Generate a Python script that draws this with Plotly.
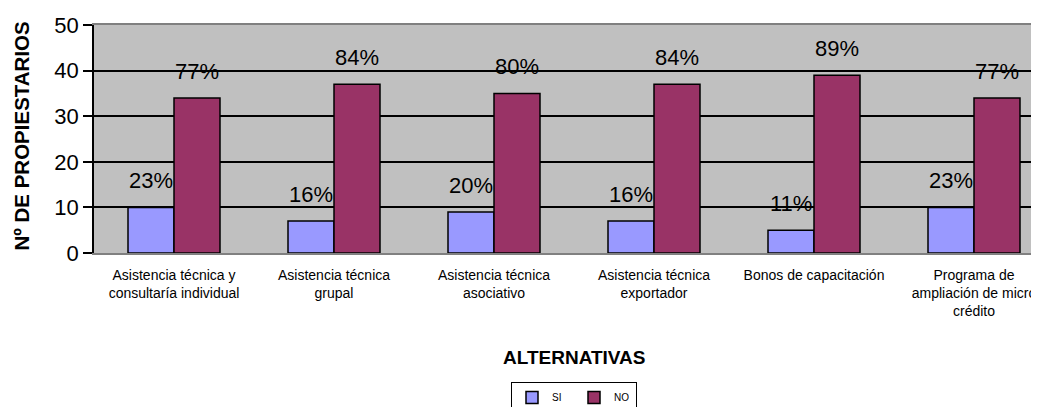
import plotly.graph_objects as go

categories = [
    "Asistencia técnica y<br>consultaría individual",
    "Asistencia técnica<br>grupal",
    "Asistencia técnica<br>asociativo",
    "Asistencia técnica<br>exportador",
    "Bonos de capacitación",
    "Programa de<br>ampliación de micro<br>crédito",
]
si_values = [10, 7, 9, 7, 5, 10]
no_values = [34, 37, 35, 37, 39, 34]
si_pct = ["23%", "16%", "20%", "16%", "11%", "23%"]
no_pct = ["77%", "84%", "80%", "84%", "89%", "77%"]
y_ticks = [0, 10, 20, 30, 40, 50]

FONT = "Arial, 'Liberation Sans', sans-serif"

fig = go.Figure()
fig.add_trace(go.Bar(name="SI", x=categories, y=si_values,
                     marker=dict(color="#9999FF", line=dict(color="black", width=1.5))))
fig.add_trace(go.Bar(name="NO", x=categories, y=no_values,
                     marker=dict(color="#993366", line=dict(color="black", width=1.5))))

annotations = []
for cat, v, t in zip(categories, si_values, si_pct):
    annotations.append(dict(x=cat, y=v, text=t, xref="x", yref="y", showarrow=False,
                            xanchor="center", yanchor="bottom", xshift=-23, yshift=12,
                            font=dict(size=22, color="black", family=FONT)))
for cat, v, t in zip(categories, no_values, no_pct):
    annotations.append(dict(x=cat, y=v, text=t, xref="x", yref="y", showarrow=False,
                            xanchor="center", yanchor="bottom", xshift=23, yshift=12,
                            font=dict(size=22, color="black", family=FONT)))

# page body has an 8px margin; the plot area is allowed to run past the window edge
plot_w = 960
plot_h = 228
annotations.append(dict(x=-73 / plot_w, y=0, xref="paper", yref="paper", showarrow=False,
                        text="<b>Nº DE PROPIESTARIOS</b>", textangle=-90,
                        xanchor="center", yanchor="bottom",
                        font=dict(size=20.5, color="black", family=FONT)))
annotations.append(dict(x=0.5, y=-104 / plot_h, xref="paper", yref="paper",
                        showarrow=False, text="<b>ALTERNATIVAS</b>",
                        xanchor="center", yanchor="middle",
                        font=dict(size=19, color="black", family=FONT)))

fig.update_layout(
    width=1046, height=399,
    margin=dict(l=86, r=0, t=17, b=154, autoexpand=False),
    paper_bgcolor="white",
    plot_bgcolor="#C0C0C0",
    barmode="group",
    bargap=0.425,
    bargroupgap=0,
    font=dict(family=FONT, color="black"),
    showlegend=True,
    legend=dict(orientation="h", x=0.5, xanchor="center",
                y=-129 / plot_h, yanchor="top",
                bordercolor="black", borderwidth=1, bgcolor="white",
                font=dict(size=10, family=FONT), itemwidth=30,
                entrywidth=17, entrywidthmode="pixels",
                tracegroupgap=0),
    annotations=annotations,
)
fig.update_xaxes(type="category", range=[-0.5, 5.5],
                 showline=True, linecolor="#808080", linewidth=1.5, mirror=True,
                 ticks="", showgrid=False, automargin=False, ticklabelstandoff=8,
                 tickfont=dict(size=14, family=FONT, color="black"))
fig.update_yaxes(range=[0, 50], tickvals=y_ticks, showgrid=True, gridcolor="black",
                 gridwidth=1.5, showline=True, linecolor="black", linewidth=1.5,
                 ticks="outside", ticklen=9, tickcolor="black", tickwidth=1.5,
                 zeroline=False, automargin=False,
                 tickfont=dict(size=22, family=FONT, color="black"))

fig.write_html("out.html")
